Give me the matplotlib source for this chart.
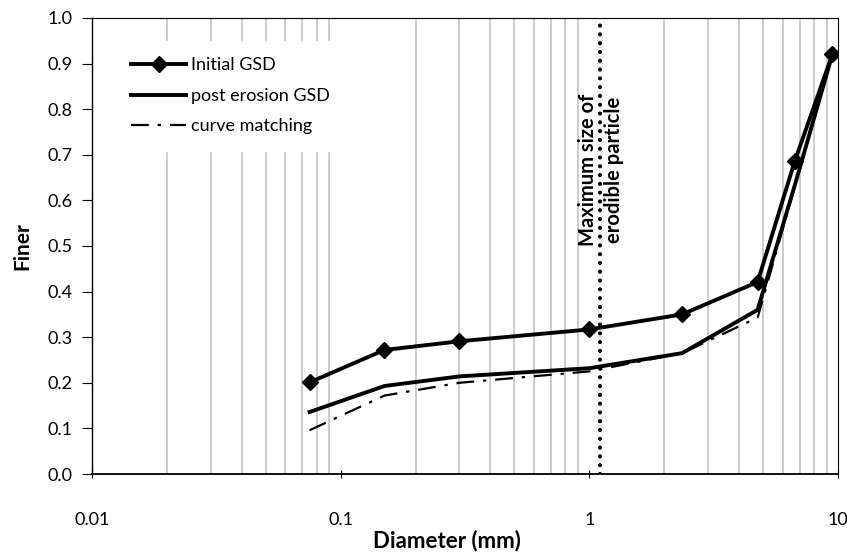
import numpy as np
import matplotlib.pyplot as plt
from matplotlib.ticker import FixedLocator, FixedFormatter, NullFormatter

# ---------------------------------------------------
diameter = [0.075, 0.15, 0.3, 1.0, 2.36, 4.75, 6.7, 9.5]
initial_gsd = [0.201, 0.272, 0.291, 0.317, 0.350, 0.421, 0.686, 0.921]
post_erosion = [0.136, 0.193, 0.214, 0.232, 0.265, 0.360, 0.633, 0.921]
curve_matching = [0.096, 0.172, 0.200, 0.225, 0.265, 0.343, 0.630, 0.921]
max_erodible = 1.1
x_ticks = [0.01, 0.1, 1, 10]
x_tick_labels = ["0.01", "0.1", "1", "10"]
# ---------------------------------------------------

plt.rcParams['font.family'] = ['Lato', 'DejaVu Sans']

fig = plt.figure(figsize=(8.47, 5.59), dpi=100)
ax = fig.add_axes([0.1086, 0.152, 0.8808, 0.816])

ax.plot(diameter, initial_gsd, color='black', lw=2.8, marker='D', ms=8,
        label='Initial GSD', zorder=4)
ax.plot(diameter, post_erosion, color='black', lw=2.8,
        label='post erosion GSD', zorder=4)
ax.plot(diameter, curve_matching, color='black', lw=1.6,
        linestyle=(0, (8, 4, 1.5, 4)), label='curve matching', zorder=5)
ax.axvline(max_erodible, color='black', lw=3, linestyle=(0, (0.01, 2.1)),
           dash_capstyle='round', zorder=6)
ax.text(max_erodible * 1.01, 0.667, "Maximum size of\nerodible particle",
        rotation=90, ha='center', va='center', fontsize=14.5,
        fontweight='bold', linespacing=1.4, zorder=3)

ax.set_xscale('log')
ax.set_xlim(0.01, 10)
ax.set_ylim(0, 1.0)
ax.set_yticks(np.arange(0, 1.01, 0.1))
ax.set_yticklabels([f"{v:.1f}" for v in np.arange(0, 1.01, 0.1)])
ax.xaxis.set_major_locator(FixedLocator(x_ticks))
ax.xaxis.set_major_formatter(FixedFormatter(x_tick_labels))
ax.xaxis.set_minor_formatter(NullFormatter())
ax.tick_params(axis='x', which='minor', length=0)
ax.tick_params(axis='x', which='major', length=6, direction='inout', pad=24,
               labelsize=13)
ax.tick_params(axis='y', which='major', length=7, direction='out', labelsize=13,
               pad=7)
ax.grid(True, which='minor', axis='x', color='#bfbfbf', lw=1.1)
ax.set_axisbelow(True)
for side in ['top', 'right']:
    ax.spines[side].set_color('black')
    ax.spines[side].set_linewidth(0.8)
ax.spines['left'].set_linewidth(1.0)
ax.spines['bottom'].set_linewidth(1.3)

ax.set_xlabel("Diameter (mm)", fontsize=16, fontweight='bold')
ax.xaxis.set_label_coords(0.476, -0.121)
ax.set_ylabel("Finer", fontsize=15, fontweight='bold', labelpad=11)

leg = ax.legend(loc='upper left', bbox_to_anchor=(0.031, 0.949), frameon=True,
                fontsize=13, handlelength=3.05, borderpad=0.9,
                labelspacing=0.8, handletextpad=0.28, borderaxespad=0.0)
leg.get_frame().set_edgecolor('white')
leg.get_frame().set_facecolor('white')
leg.get_frame().set_alpha(1)
leg.get_frame().set_boxstyle('square', pad=0.0)

fig.savefig("out.png", dpi=100)
